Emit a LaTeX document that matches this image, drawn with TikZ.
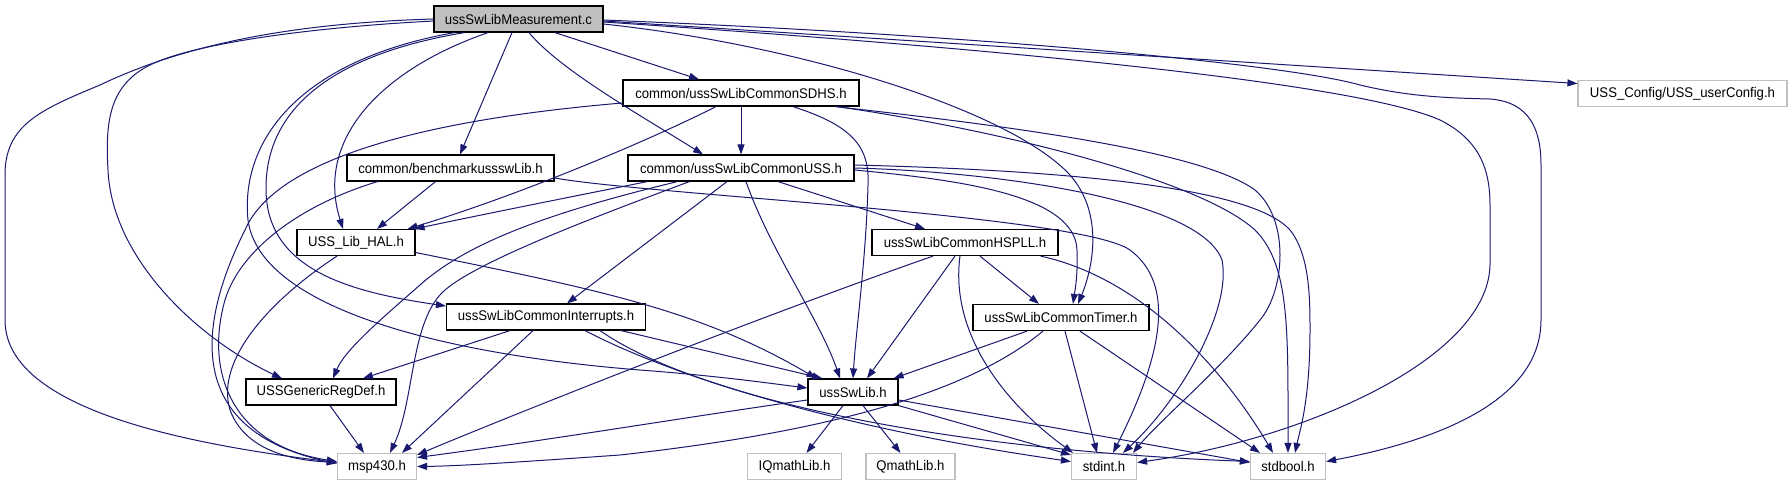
\documentclass[tikz,border=0pt]{standalone}
\usepackage{fontspec}
\setmainfont{Liberation Sans}[FakeStretch=0.94]
\usetikzlibrary{arrows.meta,calc}
\definecolor{edgec}{HTML}{191970}
\definecolor{gborder}{HTML}{BFBFBF}
\definecolor{mfill}{HTML}{BFBFBF}
\begin{document}
\begin{tikzpicture}[x=1pt,y=-1pt,
 box/.style={draw=black,line width=1.2pt,fill=white,minimum height=26pt,inner sep=0pt,font=\fontsize{14}{16}\selectfont},
 gbox/.style={box,draw=gborder},
 mbox/.style={box,fill=mfill},
 e/.style={draw=edgec,line width=1pt,-{Triangle[length=10pt,width=7pt]}}]
\fill[white] (0,0) rectangle (1792,485);
\useasboundingbox (0,0) rectangle (1792,485);
\node[mbox,minimum width=169pt] (meas) at (518.5,19) {ussSwLibMeasurement.c};
\node[box,minimum width=207pt] (bench) at (450.5,168) {common/benchmarkussswLib.h};
\node[box,minimum width=118pt] (hal) at (356,242.5) {USS\_Lib\_HAL.h};
\node[box,minimum width=236pt] (sdhs) at (741,93) {common/ussSwLibCommonSDHS.h};
\node[box,minimum width=226pt] (uss) at (741,168) {common/ussSwLibCommonUSS.h};
\node[box,minimum width=186pt] (hspll) at (965,242.5) {ussSwLibCommonHSPLL.h};
\node[gbox,minimum width=209pt] (cfg) at (1682.5,93.5) {USS\_Config/USS\_userConfig.h};
\node[box,minimum width=199pt] (intr) at (546,317) {ussSwLibCommonInterrupts.h};
\node[box,minimum width=150pt] (gen) at (321,392) {USSGenericRegDef.h};
\node[gbox,minimum width=79pt] (msp) at (377,466.5) {msp430.h};
\node[box,minimum width=176pt] (timer) at (1061,317.5) {ussSwLibCommonTimer.h};
\node[box,minimum width=90pt] (lib) at (853,392) {ussSwLib.h};
\node[gbox,minimum width=94pt] (iq) at (794.5,466.5) {IQmathLib.h};
\node[gbox,minimum width=89pt] (q) at (910.5,466.5) {QmathLib.h};
\node[gbox,minimum width=65pt] (sint) at (1104,466.5) {stdint.h};
\node[gbox,minimum width=75pt] (sbool) at (1288,466.5) {stdbool.h};
% meas
\draw[e] ($(meas.east)+(0,2)$) -- ($(cfg.west)+(0,-10)$);
\draw[e] ($(meas.south)+(36.5,0)$) -- ($(sdhs.north)+(-42,0)$);
\draw[e] ($(meas.south)+(10.5,0)$) .. controls (560,70) and (640,115) .. ($(uss.north)+(-38,0)$);
\draw[e] ($(meas.south)+(-6.5,0)$) -- ($(bench.north)+(9.5,0)$);
\draw[e] ($(meas.south)+(-30.5,0)$) .. controls (380,70) and (315,140) .. ($(hal.north)+(-13,0)$);
\draw[e] ($(meas.south)+(-54,0)$) .. controls (330,55) and (265,110) .. (266,190) .. controls (267,270) and (350,292) .. ($(intr.west)+(0,-11)$);
\draw[e] ($(meas.south)+(-64,0)$) .. controls (300,60) and (240,140) .. (248,220) .. controls (260,310) and (450,355) .. (640,370) .. controls (720,376) and (775,384) .. ($(lib.west)+(0,-4)$);
\draw[e] ($(meas.west)+(0,2)$) .. controls (300,28) and (190,45) .. (150,65) .. controls (110,85) and (105,120) .. (108,170) .. controls (112,260) and (200,340) .. ($(gen.north)+(-39,0)$);
\draw[e] (meas.west) .. controls (300,23) and (190,42) .. (100,85) .. controls (40,110) and (5,125) .. (5,175) -- (5,320) .. controls (5,400) and (150,440) .. ($(msp.west)+(0,-4)$);
\draw[e] ($(meas.east)+(0,5)$) .. controls (800,45) and (1010,110) .. (1070,175) .. controls (1105,215) and (1092,270) .. ($(timer.north)+(17,0)$);
\draw[e] ($(meas.east)+(0,3)$) .. controls (950,45) and (1350,80) .. (1440,120) .. controls (1480,140) and (1490,170) .. (1490,205) -- (1490,265) .. controls (1488,360) and (1300,440) .. ($(sint.east)+(0,-4)$);
\draw[e] ($(meas.east)+(0,1)$) .. controls (1000,36) and (1290,65) .. (1360,85) .. controls (1410,97) and (1450,98) .. (1490,99) .. controls (1530,102) and (1541,130) .. (1541,165) -- (1541,320) .. controls (1541,400) and (1440,440) .. ($(sbool.east)+(0,-5)$);
% sdhs
\draw[e] (sdhs.south) -- (uss.north);
\draw[e] ($(sdhs.south)+(-25,0)$) .. controls (650,140) and (520,195) .. ($(hal.north east)+(-8,0)$);
\draw[e] ($(sdhs.south)+(52,0)$) .. controls (850,125) and (870,145) .. (868,185) .. controls (866,260) and (856,330) .. (lib.north);
\draw[e] ($(sdhs.west)+(0,10)$) .. controls (420,120) and (275,160) .. (245,230) .. controls (200,320) and (180,430) .. ($(msp.west)+(0,-3)$);
\draw[e] ($(sdhs.south)+(94,0)$) .. controls (1000,125) and (1200,150) .. (1255,190) .. controls (1290,220) and (1285,290) .. (1260,320) .. controls (1220,370) and (1160,420) .. ($(sint.north)+(29,0)$);
\draw[e] ($(sdhs.south)+(96,0)$) .. controls (1000,130) and (1200,180) .. (1255,230) .. controls (1290,265) and (1288,330) .. (sbool.north);
% uss
\draw[e] ($(uss.south west)+(20,0)$) .. controls (580,195) and (480,215) .. ($(hal.north east)+(-1,0)$);
\draw[e] ($(uss.south west)+(50,0)$) .. controls (560,210) and (470,240) .. (420,285) .. controls (380,320) and (345,350) .. ($(gen.north)+(12,0)$);
\draw[e] ($(uss.south west)+(62,0)$) .. controls (600,215) and (480,260) .. (445,290) .. controls (410,320) and (415,400) .. ($(msp.north)+(13,0)$);
\draw[e] ($(uss.south)+(-14,0)$) -- ($(intr.north)+(21,0)$);
\draw[e] ($(uss.south)+(5,0)$) .. controls (770,250) and (820,320) .. ($(lib.north)+(-13,0)$);
\draw[e] ($(uss.south)+(37,0)$) -- ($(hspll.north)+(-40,0)$);
\draw[e] ($(uss.east)+(0,2)$) .. controls (960,180) and (1075,195) .. (1077,250) .. controls (1078,275) and (1075,290) .. ($(timer.north)+(12,0)$);
\draw[e] (uss.east) .. controls (1000,172) and (1200,200) .. (1222,260) .. controls (1232,310) and (1180,400) .. ($(sint.north)+(19,0)$);
\draw[e] ($(uss.east)+(0,-3)$) .. controls (1050,170) and (1250,185) .. (1290,230) .. controls (1310,255) and (1310,300) .. (1310,330) .. controls (1310,400) and (1300,430) .. ($(sbool.north)+(7,0)$);
% hspll
\draw[e] ($(hspll.south)+(-32,0)$) .. controls (750,320) and (500,420) .. ($(msp.north east)+(0,2)$);
\draw[e] ($(hspll.south)+(-10,0)$) -- ($(lib.north)+(14,0)$);
\draw[e] ($(hspll.south)+(15,0)$) -- ($(timer.north)+(-22,0)$);
\draw[e] ($(hspll.south)+(-5,0)$) .. controls (950,330) and (1000,400) .. ($(sint.north)+(-31,0)$);
\draw[e] ($(hspll.south east)+(-18,0)$) .. controls (1150,280) and (1230,380) .. ($(sbool.north)+(-15,0)$);
% timer
\draw[e] ($(timer.south)+(-34,0)$) -- ($(lib.north east)+(-5,0)$);
\draw[e] ($(timer.south)+(-18,0)$) .. controls (960,400) and (800,435) .. (620,455) .. controls (520,462) and (460,466) .. (msp.east);
\draw[e] ($(timer.south)+(4,0)$) -- ($(sint.north)+(-7,0)$);
\draw[e] ($(timer.south)+(19,0)$) -- ($(sbool.north)+(-28,0)$);
% intr
\draw[e] ($(intr.south)+(-36,0)$) -- ($(gen.north)+(42,0)$);
\draw[e] ($(intr.south)+(-13,0)$) -- ($(msp.north)+(25,0)$);
\draw[e] ($(intr.south east)+(-25,0)$) -- ($(lib.north west)+(15,0)$);
\draw[e] ($(intr.south)+(39,0)$) .. controls (680,380) and (850,430) .. ($(sint.west)+(0,-5)$);
\draw[e] ($(intr.south)+(54,0)$) .. controls (700,400) and (950,450) .. ($(sbool.west)+(0,-5)$);
% lib
\draw[e] ($(lib.west)+(0,8)$) .. controls (700,415) and (550,440) .. ($(msp.east)+(0,-9)$);
\draw[e] ($(lib.south)+(-10,0)$) -- ($(iq.north)+(12,0)$);
\draw[e] ($(lib.south)+(10,0)$) -- ($(q.north)+(-10,0)$);
\draw[e] (lib.south east) -- ($(sint.north west)+(0,2)$);
\draw[e] ($(lib.east)+(0,8)$) -- ($(sbool.west)+(0,-4)$);
% bench
\draw[e] ($(bench.south)+(-15,0)$) -- ($(hal.north)+(21,0)$);
\draw[e] ($(bench.south)+(-73,0)$) .. controls (300,205) and (240,250) .. (225,300) .. controls (205,370) and (230,445) .. ($(msp.west)+(0,-5)$);
\draw[e] ($(bench.east)+(0,10)$) .. controls (650,195) and (1080,215) .. (1130,250) .. controls (1170,280) and (1170,340) .. ($(sint.north)+(9,0)$);
% hal
\draw[e] ($(hal.south)+(-19,0)$) .. controls (270,300) and (215,360) .. (230,410) .. controls (245,450) and (290,460) .. ($(msp.west)+(0,-4)$);
\draw[e] ($(hal.east)+(0,10)$) .. controls (600,290) and (700,310) .. ($(lib.north west)+(9,0)$);
% gen
\draw[e] ($(gen.south)+(9,0)$) -- ($(msp.north)+(-13,0)$);
\end{tikzpicture}
\end{document}
